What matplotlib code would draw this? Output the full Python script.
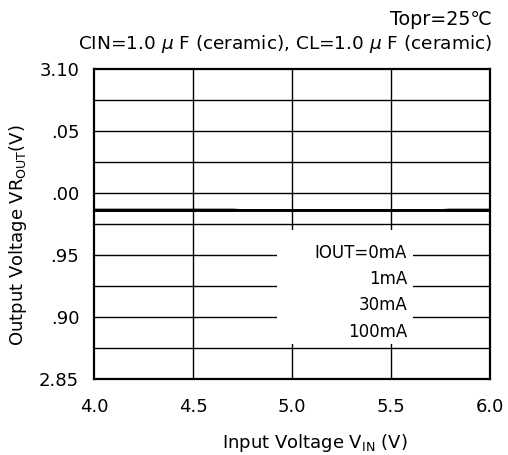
import matplotlib
matplotlib.use("Agg")
import matplotlib.pyplot as plt
from matplotlib.patches import Rectangle

# reference text is wide, DejaVu Sans matches its width better than Arial
plt.rcParams['font.family'] = ['DejaVu Sans']
plt.rcParams['mathtext.fontset'] = 'dejavusans'

# data
vin = [4.0, 4.5, 4.7, 4.75, 5.0, 5.5, 5.75, 5.8, 6.0]
vout_0ma = [2.9866, 2.9866, 2.9866, 2.9862, 2.9862, 2.9862, 2.9862, 2.9866, 2.9866]
vout_1ma = [2.9862, 2.9862, 2.9862, 2.9862, 2.9862, 2.9862, 2.9862, 2.9862, 2.9862]
vout_30ma = [2.9860, 2.9860, 2.9860, 2.9860, 2.9860, 2.9860, 2.9860, 2.9860, 2.9860]
vout_100ma = [2.9858, 2.9858, 2.9858, 2.9858, 2.9858, 2.9858, 2.9858, 2.9858, 2.9858]
legend_labels = ['IOUT=0mA', '1mA', '30mA', '100mA']

xticks = [4.0, 4.5, 5.0, 5.5, 6.0]
xtick_labels = ['4.0', '4.5', '5.0', '5.5', '6.0']
yticks = [2.85, 2.90, 2.95, 3.00, 3.05, 3.10]
ytick_labels = ['2.85', '.90', '.95', '.00', '.05', '3.10']
ygrid = [2.875, 2.90, 2.925, 2.95, 2.975, 3.00, 3.025, 3.05, 3.075]
xgrid = [4.5, 5.0, 5.5]

fig = plt.figure(figsize=(5.08, 4.55), dpi=100)
ax = fig.add_axes([0.186, 0.167, 0.7776, 0.6814])

for g in ygrid:
    ax.axhline(g, color='black', lw=1.0, zorder=1)
for g in xgrid:
    ax.axvline(g, color='black', lw=1.0, zorder=1)

for ys in [vout_0ma, vout_1ma, vout_30ma, vout_100ma]:
    ax.plot(vin, ys, color='black', lw=1.4, zorder=3)

ax.set_xlim(4.0, 6.0)
ax.set_ylim(2.85, 3.10)
ax.set_xticks(xticks)
ax.set_xticklabels(xtick_labels, fontsize=13)
ax.set_yticks(yticks)
ax.set_yticklabels(ytick_labels, fontsize=13)
ax.tick_params(length=0, pad=11)
ax.tick_params(axis='x', pad=14)
for s in ax.spines.values():
    s.set_linewidth(1.6)
    s.set_zorder(5)

# legend: white box with right aligned labels
ax.add_patch(Rectangle((4.924, 2.878), 0.689, 0.092, facecolor='white',
                       edgecolor='none', zorder=4))
leg_y = [2.9516, 2.9306, 2.9097, 2.888]
for lab, yy in zip(legend_labels, leg_y):
    ax.text(5.582, yy, lab, ha='right', va='center', fontsize=12, zorder=6)

ax.set_xlabel('Input Voltage V$_{\\mathrm{IN}}$ (V)', fontsize=13)
ax.set_ylabel('Output Voltage VR$_{\\mathrm{OUT}}$(V)', fontsize=13)
ax.xaxis.set_label_coords(0.558, -0.172)
ax.yaxis.set_label_coords(-0.166, 0.464)

fig.text(0.968, 0.958, 'Topr=25\u2103', ha='right', va='center', fontsize=13.8)
fig.text(0.968, 0.903, 'CIN=1.0 $\\mathit{\\mu}$ F (ceramic), CL=1.0 $\\mathit{\\mu}$ F (ceramic)',
         ha='right', va='center', fontsize=13.3)

fig.savefig('out.png', dpi=100)
